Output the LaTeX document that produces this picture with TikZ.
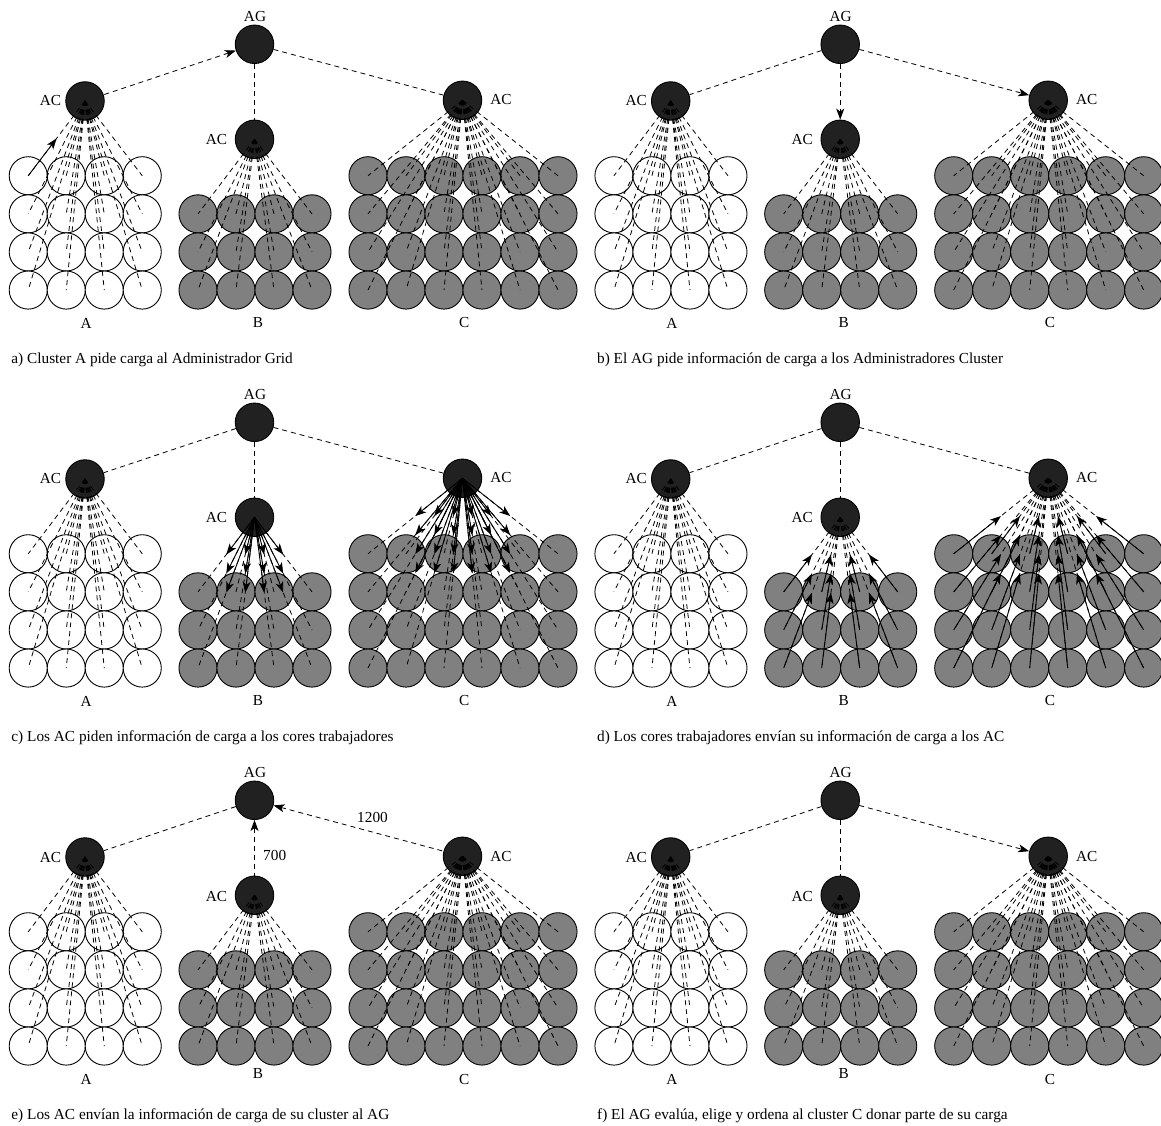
\documentclass[tikz,border=0pt]{standalone}
\usepackage{fontspec}
\setmainfont{Liberation Serif}
\usetikzlibrary{arrows.meta,calc}

\tikzset{
  admin/.style={circle,draw,fill=black!87,minimum size=38.5pt,inner sep=0pt},
  core/.style={circle,draw,minimum size=38.1pt,inner sep=0pt},
  idle/.style={core,fill=white},
  busy/.style={core,fill=gray},
  link/.style={line width=0.8pt,dash pattern=on 5pt off 4pt},
  tip/.style={-{Stealth[length=11pt,width=8pt,inset=3pt]}},
  toag/.style={{Stealth[length=11pt,width=8pt,inset=3pt]}-},
  fromag/.style={tip},
  txt/.style={font=\fontsize{15.3}{18}\selectfont,inner sep=0pt}
}

% one step: #1 name, #2 shift, #3 caption, #4 #5 #6 style of the AG links
% to A, B and C, #7 extra arrows, #8 height of the B label
\newcommand{\etapa}[8]{%
\begin{scope}[shift={(#2)}]
  % cores of the three clusters
  \foreach \col in {1,...,4} \foreach \row in {1,...,4}
    \node[idle] (#1A\col\row) at ({28.25+38*(\col-1)},{175.75+38.1*(\row-1)}) {};
  \foreach \col in {1,...,4} \foreach \row in {1,...,3}
    \node[busy] (#1B\col\row) at ({198+38*(\col-1)},{213.85+38.1*(\row-1)}) {};
  \foreach \col in {1,...,6} \foreach \row in {1,...,4}
    \node[busy] (#1C\col\row) at ({368+38*(\col-1)},{175.75+38.1*(\row-1)}) {};

  % grid and cluster administrators
  \node[admin] (#1ag) at (254.5,44.3) {};
  \node[admin] (#1acA) at (85,101) {};
  \node[admin] (#1acB) at (254.5,139.3) {};
  \node[admin] (#1acC) at (462.5,100.3) {};

  % every core hangs from its AC
  \foreach \col in {1,...,4} \foreach \row in {1,...,4}
    \draw[link] (#1acA.center) -- (#1A\col\row.center);
  \foreach \col in {1,...,4} \foreach \row in {1,...,3}
    \draw[link] (#1acB.center) -- (#1B\col\row.center);
  \foreach \col in {1,...,6} \foreach \row in {1,...,4}
    \draw[link] (#1acC.center) -- (#1C\col\row.center);

  \draw[link,#4] (#1ag) -- (#1acA);
  \draw[link,#5] (#1ag) -- (#1acB);
  \draw[link,#6] (#1ag) -- (#1acC);

  % labels
  \node[txt] (#1tag) at (255,17) {AG};
  \node[txt] (#1tacA) at (50.5,101) {AC};
  \node[txt] (#1tacB) at (216.5,140) {AC};
  \node[txt] (#1tacC) at (501,100) {AC};
  \node[txt] (#1tA) at (86.2,323) {A};
  \node[txt] (#1tB) at (258,#8) {B};
  \node[txt] (#1tC) at (464.3,323) {C};
  \node[txt,anchor=west] (#1cap) at (11,360) {#3};

  #7
\end{scope}}

\begin{document}
\begin{tikzpicture}[x=1pt,y=-1pt,line width=0.9pt]
\useasboundingbox (0,0) rectangle (1161,1126);

\etapa{a}{0,0}{a) Cluster A pide carga al Administrador Grid}{toag}{}{}{%
  \draw[tip] (aA11.center) -- ($(aA11.center)!.5!(aacA.center)$);}{323}

\etapa{b}{585.7,0}{b) El AG pide información de carga a los Administradores Cluster}{}{fromag}{fromag}{}{323}

\etapa{c}{0,378}{c) Los AC piden información de carga a los cores trabajadores}{}{}{}{%
  \foreach \col in {1,...,4} \foreach \row in {1,...,3}
    \draw[tip] (cacB.center) -- ($(cacB.center)!.5!(cB\col\row.center)$);
  \foreach \col in {1,...,6} \foreach \row in {1,...,4}
    \draw[tip] (cacC.center) -- ($(cacC.center)!.5!(cC\col\row.center)$);}{323}

\etapa{d}{585.7,378}{d) Los cores trabajadores envían su información de carga a los AC}{}{}{}{%
  \foreach \col in {1,...,4} \foreach \row in {1,...,3}
    \draw[tip] (dB\col\row.center) -- ($(dB\col\row.center)!.5!(dacB.center)$);
  \foreach \col in {1,...,6} \foreach \row in {1,...,4}
    \draw[tip] (dC\col\row.center) -- ($(dC\col\row.center)!.5!(dacC.center)$);}{323}

\etapa{e}{0,756}{e) Los AC envían la información de carga de su cluster al AG}{}{toag}{toag}{%
  \node[txt] (e700) at (274.7,99) {700};
  \node[txt] (e1200) at (372.5,61.5) {1200};}{318}

\etapa{f}{585.7,756}{f) El AG evalúa, elige y ordena al cluster C donar parte de su carga}{}{}{fromag}{}{318}
\end{tikzpicture}
\end{document}
